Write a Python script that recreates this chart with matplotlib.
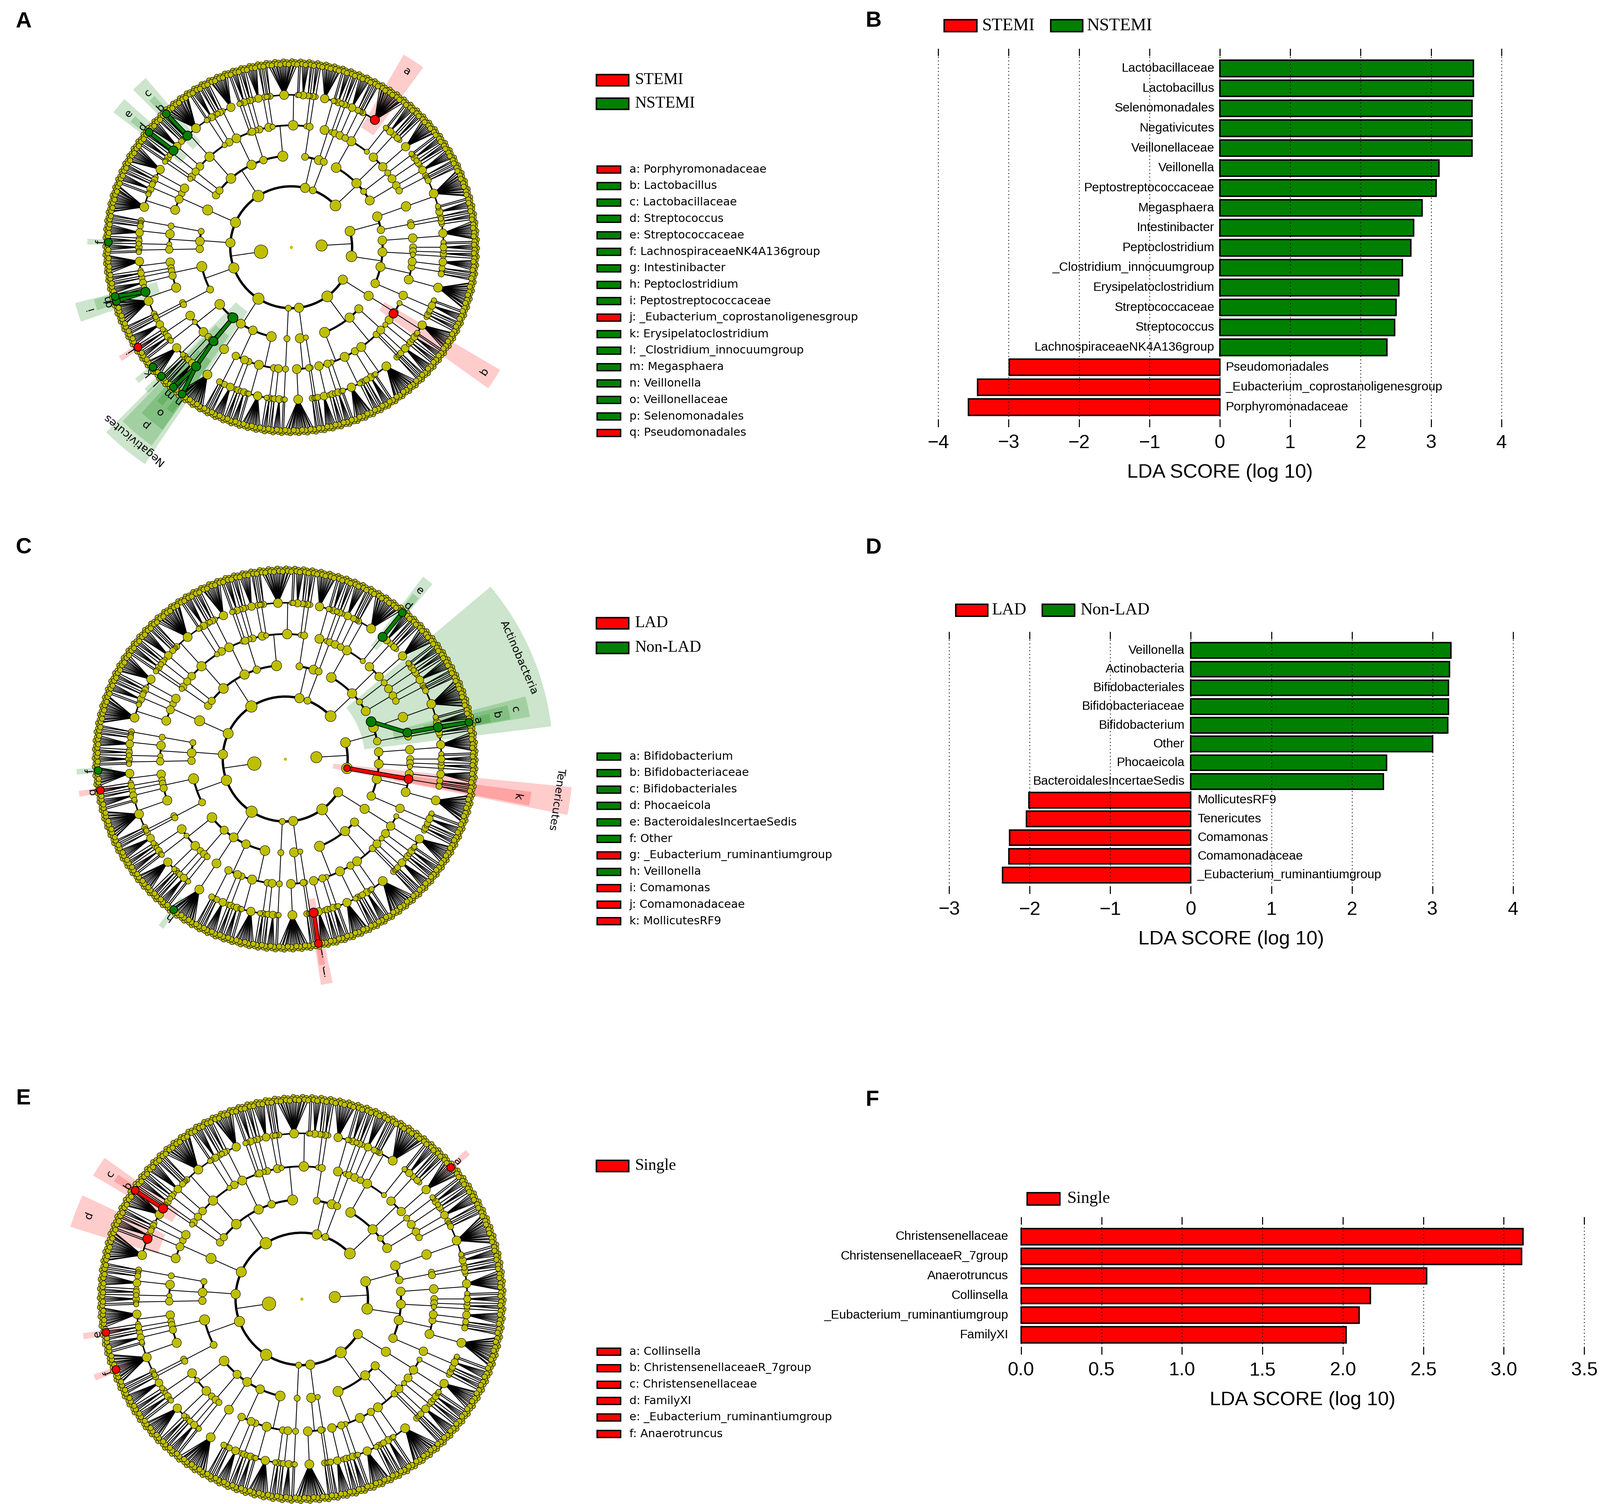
import numpy as np
import matplotlib
matplotlib.use("Agg")
import matplotlib.pyplot as plt
from matplotlib.patches import Wedge, Rectangle
from matplotlib.collections import LineCollection

""" Canvas """
W, H, DPI = 4550, 4276, 300
SANS = ["Liberation Sans", "DejaVu Sans"]
SERIF = ["Liberation Serif", "DejaVu Serif"]
CLAD_FONT = ["DejaVu Sans"]
plt.rcParams["font.family"] = SANS

RED = "#ff0000"
GREEN = "#008000"
NODE = "#bfbf00"
COLORS = {"STEMI": RED, "NSTEMI": GREEN, "LAD": RED, "Non-LAD": GREEN, "Single": RED}

""" LDA scores """
b_names = ["Lactobacillaceae", "Lactobacillus", "Selenomonadales", "Negativicutes",
           "Veillonellaceae", "Veillonella", "Peptostreptococcaceae", "Megasphaera",
           "Intestinibacter", "Peptoclostridium", "_Clostridium_innocuumgroup",
           "Erysipelatoclostridium", "Streptococcaceae", "Streptococcus",
           "LachnospiraceaeNK4A136group", "Pseudomonadales",
           "_Eubacterium_coprostanoligenesgroup", "Porphyromonadaceae"]
b_scores = [3.60, 3.60, 3.58, 3.58, 3.58, 3.11, 3.07, 2.87, 2.75, 2.71, 2.59,
            2.54, 2.50, 2.48, 2.37, -2.99, -3.44, -3.57]
b_groups = ["NSTEMI"] * 15 + ["STEMI"] * 3

d_names = ["Veillonella", "Actinobacteria", "Bifidobacteriales", "Bifidobacteriaceae",
           "Bifidobacterium", "Other", "Phocaeicola", "BacteroidalesIncertaeSedis",
           "MollicutesRF9", "Tenericutes", "Comamonas", "Comamonadaceae",
           "_Eubacterium_ruminantiumgroup"]
d_scores = [3.23, 3.21, 3.20, 3.20, 3.19, 3.00, 2.43, 2.39, -2.01, -2.04, -2.25, -2.26, -2.34]
d_groups = ["Non-LAD"] * 8 + ["LAD"] * 5

f_names = ["Christensenellaceae", "ChristensenellaceaeR_7group", "Anaerotruncus",
           "Collinsella", "_Eubacterium_ruminantiumgroup", "FamilyXI"]
f_scores = [3.12, 3.11, 2.52, 2.17, 2.10, 2.02]
f_groups = ["Single"] * 6

""" Cladogram legends """
a_legend = ["a: Porphyromonadaceae", "b: Lactobacillus", "c: Lactobacillaceae",
            "d: Streptococcus", "e: Streptococcaceae", "f: LachnospiraceaeNK4A136group",
            "g: Intestinibacter", "h: Peptoclostridium", "i: Peptostreptococcaceae",
            "j: _Eubacterium_coprostanoligenesgroup", "k: Erysipelatoclostridium",
            "l: _Clostridium_innocuumgroup", "m: Megasphaera", "n: Veillonella",
            "o: Veillonellaceae", "p: Selenomonadales", "q: Pseudomonadales"]
a_legend_grp = ["STEMI"] + ["NSTEMI"] * 8 + ["STEMI"] + ["NSTEMI"] * 6 + ["STEMI"]

c_legend = ["a: Bifidobacterium", "b: Bifidobacteriaceae", "c: Bifidobacteriales",
            "d: Phocaeicola", "e: BacteroidalesIncertaeSedis", "f: Other",
            "g: _Eubacterium_ruminantiumgroup", "h: Veillonella", "i: Comamonas",
            "j: Comamonadaceae", "k: MollicutesRF9"]
c_legend_grp = ["Non-LAD"] * 6 + ["LAD", "Non-LAD", "LAD", "LAD", "LAD"]

e_legend = ["a: Collinsella", "b: ChristensenellaceaeR_7group", "c: Christensenellaceae",
            "d: FamilyXI", "e: _Eubacterium_ruminantiumgroup", "f: Anaerotruncus"]
e_legend_grp = ["Single"] * 6

""" Highlighted clades: label, taxonomic level, angle (deg), half width (deg), group, parent """
a_hl_text = ["a", "b", "c", "d", "e", "f", "g", "h", "i", "j", "k", "l", "m", "n",
             "o", "p", "Negativicutes", "q"]
a_hl_level = [5, 6, 5, 6, 5, 6, 6, 6, 5, 6, 6, 6, 6, 6, 5, 4, 3, 4]
a_hl_angle = [56.7, 133.1, 132.9, 141.0, 140.6, 178.4, -162.8, -164.4, -163.0,
              -146.9, -139.1, -135.2, -130.1, -126.6, -128.6, -129.6, -129.5, -33.0]
a_hl_width = [3.0, 1.0, 2.2, 1.0, 2.2, 0.8, 0.8, 0.8, 2.5, 0.8, 0.8, 0.8, 1.0, 1.0,
              3.5, 4.5, 5.5, 2.6]
a_hl_group = ["STEMI"] + ["NSTEMI"] * 8 + ["STEMI"] + ["NSTEMI"] * 7 + ["STEMI"]
a_hl_parent = [-1, 2, -1, 4, -1, -1, 8, 8, -1, -1, -1, -1, 14, 14, 15, 16, -1, -1]

c_hl_text = ["a", "b", "c", "Actinobacteria", "d", "e", "f", "g", "h", "i", "j", "k",
             "Tenericutes"]
c_hl_level = [6, 5, 4, 3, 6, 5, 6, 6, 6, 6, 5, 4, 2]
c_hl_angle = [11.3, 11.8, 12.2, 23.5, 51.3, 51.4, -176.5, -170.4, -126.5, -79.8,
              -79.5, -9.2, -8.4]
c_hl_width = [1.2, 1.8, 2.4, 16.5, 1.0, 1.5, 0.8, 0.8, 0.8, 0.8, 1.5, 1.6, 2.8]
c_hl_group = ["Non-LAD"] * 7 + ["LAD", "Non-LAD", "LAD", "LAD", "LAD", "LAD"]
c_hl_parent = [1, 2, 3, -1, 5, -1, -1, -1, -1, 10, -1, 12, -1]

e_hl_text = ["a", "b", "c", "d", "e", "f"]
e_hl_level = [6, 6, 5, 5, 6, 6]
e_hl_angle = [41.4, 146.9, 146.9, 158.7, -170.3, -159.2]
e_hl_width = [0.8, 1.0, 2.5, 4.0, 0.8, 0.8]
e_hl_group = ["Single"] * 6
e_hl_parent = [-1, 2, -1, -1, -1, -1]

""" Background taxonomy: number of children, taken in turn at each rank """
KINGDOM_PHYLA = [12, 2]
PHYLUM_CLASSES = [4, 1, 2, 6, 1, 3, 2, 5, 1, 2, 3, 1, 4, 2]
CLASS_ORDERS = [3, 1, 2, 4, 1, 2, 1, 5, 2, 3]
ORDER_FAMILIES = [2, 1, 4, 2, 1, 6, 1, 3, 2, 1]
FAMILY_GENERA = [1, 2, 7, 1, 3, 1, 4, 1, 1, 12, 1, 3, 1, 2, 5, 1, 1, 18, 2, 1]
# slight radial stagger of the outer ring, repeated leaf by leaf
LEAF_STAGGER = [0.0, 0.07, 0.02, 0.10, 0.04]


def px_axes(fig, x0, y0, x1, y1):
    return fig.add_axes([x0 / W, 1 - y1 / H, (x1 - x0) / W, (y1 - y0) / H])


def polar(r, a):
    t = np.deg2rad(a)
    return r * np.cos(t), r * np.sin(t)


def build_tree():
    counts = {1: KINGDOM_PHYLA, 2: PHYLUM_CLASSES, 3: CLASS_ORDERS,
              4: ORDER_FAMILIES, 5: FAMILY_GENERA}
    used = {k: 0 for k in counts}

    def grow(level):
        node = {"level": level, "kids": []}
        if level == 6:
            return node
        seq = counts[level]
        n = seq[used[level] % len(seq)]
        used[level] += 1
        node["kids"] = [grow(level + 1) for _ in range(n)]
        return node

    root = {"level": 0, "kids": [grow(1), grow(1)]}

    leaves = []

    def collect(node):
        if not node["kids"]:
            leaves.append(node)
        for k in node["kids"]:
            collect(k)

    collect(root)

    def count(node):
        if not node["kids"]:
            node["n"] = 1
        else:
            node["n"] = sum(count(k) for k in node["kids"])
        return node["n"]

    count(root)
    n_small = root["kids"][1]["n"]
    step = 360.0 / len(leaves)
    for i, lf in enumerate(leaves):
        lf["ang"] = step * (n_small / 2 + 0.5 + i)
        lf["r"] = 6 + LEAF_STAGGER[i % len(LEAF_STAGGER)]

    def settle(node):
        if node["kids"]:
            for k in node["kids"]:
                settle(k)
            node["ang"] = np.mean([k["ang"] for k in node["kids"]])
            node["r"] = node["level"]

    settle(root)
    return root


def tree_geometry(root):
    thin, fans = [], []
    arcs = {2: [], 3: [], 4: [], 5: []}
    nodes = []

    def walk(node):
        L = node["level"]
        if L >= 1:
            nodes.append((node["ang"], node["r"], 15 + 8.5 * np.log10(node["n"])))
        if not node["kids"]:
            return
        if L >= 1 and L + 1 <= 5:
            thin.append([polar(L, node["ang"]), polar(L + 1, node["ang"])])
            angs = [k["ang"] for k in node["kids"]]
            if len(angs) > 1:
                t = np.linspace(min(angs), max(angs), 60)
                arcs[L + 1].append(np.column_stack(polar(L + 1, t)))
        elif L == 5:
            for k in node["kids"]:
                fans.append([polar(5, node["ang"]), polar(k["r"], k["ang"])])
        for k in node["kids"]:
            walk(k)

    walk(root)
    return thin, fans, arcs, nodes


def lda_panel(fig, box, names, scores, groups, xlim, xticks):
    ax = px_axes(fig, *box)
    ypos = np.arange(len(names))
    ax.barh(ypos, scores, height=0.82, color=[COLORS[g] for g in groups],
            edgecolor="black", linewidth=1.0)
    for y, name, s in zip(ypos, names, scores):
        if s > 0:
            ax.text(-0.08, y, name, ha="right", va="center", fontsize=8.5)
        else:
            ax.text(0.08, y, name, ha="left", va="center", fontsize=8.5)
    ax.set_xlim(*xlim)
    ax.set_ylim(len(names), -1)
    ax.set_yticks([])
    ax.set_xticks(xticks)
    for sp in ax.spines.values():
        sp.set_visible(False)
    ax.tick_params(axis="x", direction="in", top=True, bottom=True, length=5,
                   width=0.7, labelsize=13, pad=5)
    ax.xaxis.grid(True, color="black", linestyle=(0, (1, 3)), linewidth=0.6)
    ax.set_xlabel("LDA SCORE (log 10)", fontsize=13.5, labelpad=8)
    return ax


def cladogram(fig, cx, cy, R, geo, texts, levels, angles, widths, groups, parents):
    ext = 9.8
    s = R / 6.0
    ax = px_axes(fig, cx - ext * s, cy - ext * s, cx + ext * s, cy + ext * s)
    ax.set_xlim(-ext, ext)
    ax.set_ylim(-ext, ext)
    ax.axis("off")
    thin, fans, arcs, nodes = geo

    # shaded sectors and labels of the discriminant clades
    for t, L, a, hw, g in zip(texts, levels, angles, widths, groups):
        lab_r = 6.27 + 0.63 * (6 - L)
        outer = lab_r + 0.42
        ax.add_patch(Wedge((0, 0), outer, a - hw, a + hw, width=outer - (L - 0.45),
                           facecolor=COLORS[g], alpha=0.2, linewidth=0, zorder=1))
        x, y = polar(lab_r, a)
        ax.text(x, y, t, rotation=(a - 90) % 360, rotation_mode="anchor",
                ha="center", va="center", fontsize=7.5, family=CLAD_FONT, zorder=7)

    ax.add_collection(LineCollection(thin, colors="black", linewidths=0.55, zorder=2))
    ax.add_collection(LineCollection(fans, colors="black", linewidths=0.6, zorder=2))
    for lvl, lw in zip([2, 3, 4, 5], [1.6, 1.4, 1.2, 1.0]):
        ax.add_collection(LineCollection(arcs[lvl], colors="black", linewidths=lw,
                                         capstyle="round", zorder=2))

    na = np.array([n[0] for n in nodes])
    nr = np.array([n[1] for n in nodes])
    nd = np.array([n[2] for n in nodes])
    order = np.argsort(-nr)
    nx, ny = polar(nr[order], na[order])
    ax.scatter(nx, ny, s=(nd[order] * 72 / DPI) ** 2, c=NODE, edgecolors="black",
               linewidths=0.3, zorder=3)
    ax.scatter([0], [0], s=(9 * 72 / DPI) ** 2, c=NODE, linewidths=0, zorder=3)

    # coloured branches and nodes
    for i, p in enumerate(parents):
        if p < 0:
            continue
        seg = [polar(levels[p], angles[p]), polar(levels[i], angles[i])]
        xs, ys = zip(*seg)
        ax.plot(xs, ys, color="black", linewidth=3.0, solid_capstyle="round", zorder=4)
        ax.plot(xs, ys, color=COLORS[groups[i]], linewidth=2.0, solid_capstyle="round", zorder=4)
    hsize = {2: 19, 3: 28, 4: 25, 5: 26, 6: 22}
    hx, hy = polar(np.array(levels, float), np.array(angles))
    ax.scatter(hx, hy, s=[(hsize[L] * 72 / DPI) ** 2 for L in levels],
               c=[COLORS[g] for g in groups], edgecolors="black", linewidths=0.5, zorder=5)
    return ax


def group_key(ax, x0, x1, yc, h, group, tx, size):
    ax.add_patch(Rectangle((x0, yc - h / 2), x1 - x0, h, facecolor=COLORS[group],
                           edgecolor="black", linewidth=1.0))
    ax.text(tx, yc, group, ha="left", va="center", fontsize=size, family=SERIF)


def letter_key(ax, items, groups, y0):
    for i, (txt, g) in enumerate(zip(items, groups)):
        y = y0 + i * 46.8
        ax.add_patch(Rectangle((1698, y - 10), 67, 20, facecolor=COLORS[g],
                               edgecolor="black", linewidth=0.9))
        ax.text(1790, y, txt, ha="left", va="center", fontsize=7.7, family=CLAD_FONT)


fig = plt.figure(figsize=(W / DPI, H / DPI), dpi=DPI)

geo = tree_geometry(build_tree())
cladogram(fig, 828, 703, 520, geo, a_hl_text, a_hl_level, a_hl_angle, a_hl_width,
          a_hl_group, a_hl_parent)
cladogram(fig, 811, 2158, 533, geo, c_hl_text, c_hl_level, c_hl_angle, c_hl_width,
          c_hl_group, c_hl_parent)
cladogram(fig, 858, 3693, 565, geo, e_hl_text, e_hl_level, e_hl_angle, e_hl_width,
          e_hl_group, e_hl_parent)

lda_panel(fig, (2658, 138, 4280, 1214), b_names, b_scores, b_groups,
          (-4.05, 4.05), np.arange(-4, 5, 1))
lda_panel(fig, (2688, 1796, 4314, 2541), d_names, d_scores, d_groups,
          (-3.05, 4.05), np.arange(-3, 5, 1))
lda_panel(fig, (2890, 3460, 4519, 3851), f_names, f_scores, f_groups,
          (-0.03, 3.53), np.arange(0, 3.51, 0.5))

""" Legends and panel letters, in pixel units """
ov = fig.add_axes([0, 0, 1, 1])
ov.set_xlim(0, W)
ov.set_ylim(H, 0)
ov.axis("off")

group_key(ov, 1696, 1788, 228, 32, "STEMI", 1806, 11)
group_key(ov, 1696, 1788, 295, 32, "NSTEMI", 1806, 11)
letter_key(ov, a_legend, a_legend_grp, 482)
group_key(ov, 1696, 1788, 1772, 32, "LAD", 1806, 11)
group_key(ov, 1696, 1788, 1842, 32, "Non-LAD", 1806, 11)
letter_key(ov, c_legend, c_legend_grp, 2151)
group_key(ov, 1696, 1788, 3315, 32, "Single", 1806, 11)
letter_key(ov, e_legend, e_legend_grp, 3843)

group_key(ov, 2685, 2778, 73, 34, "STEMI", 2793, 12)
group_key(ov, 2988, 3079, 73, 34, "NSTEMI", 3091, 12)
group_key(ov, 2718, 2809, 1735, 34, "LAD", 2821, 11.5)
group_key(ov, 2964, 3056, 1735, 34, "Non-LAD", 3073, 11.5)
group_key(ov, 2921, 3014, 3408, 35, "Single", 3035, 11.5)

for letter, x, y in [("A", 67, 62), ("B", 2484, 60), ("C", 67, 1557),
                     ("D", 2484, 1558), ("E", 67, 3124), ("F", 2481, 3127)]:
    ov.text(x, y, letter, ha="center", va="center", fontsize=15, fontweight="bold")

fig.savefig("out.png", dpi=DPI)
